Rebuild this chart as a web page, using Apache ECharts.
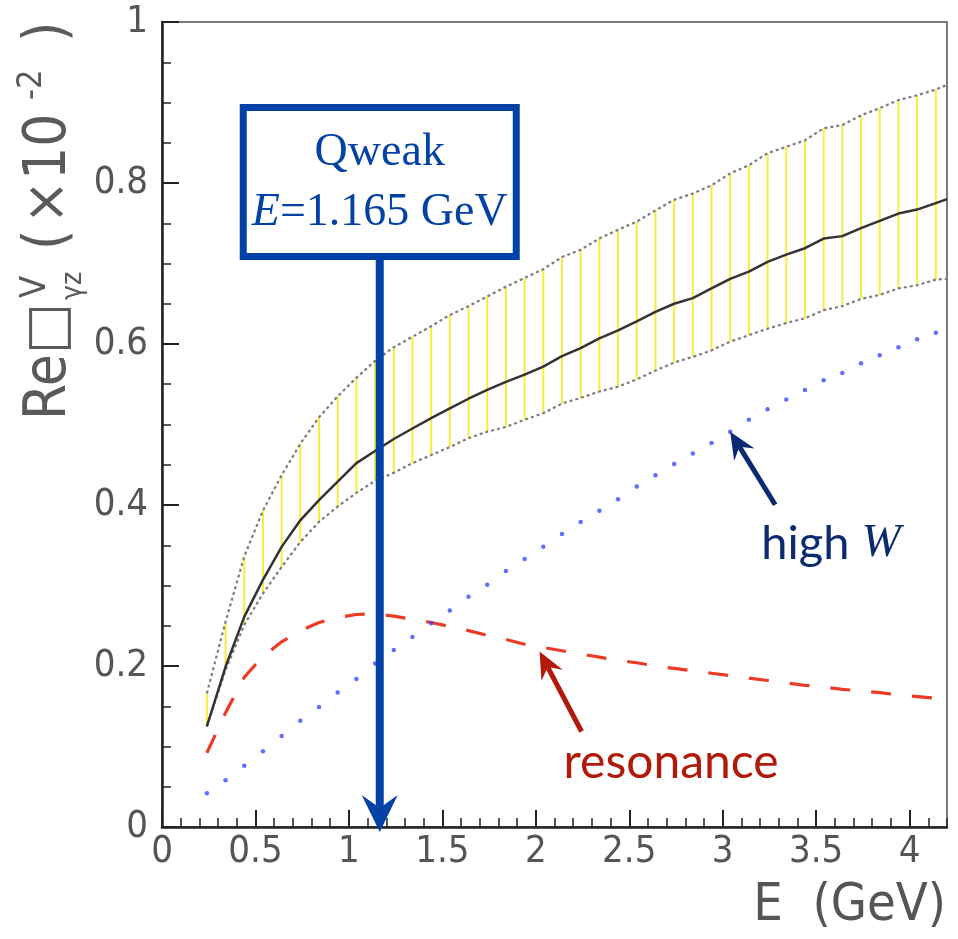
<!DOCTYPE html>
<html><head><meta charset="utf-8">
<script src="https://cdn.jsdelivr.net/npm/echarts@6/dist/echarts.min.js"></script>
<style>html,body{margin:0;padding:0;background:#fff}#c{width:958px;height:939px}</style>
</head><body><div id="c"></div>
<script>
// ---- data ----
const energy = [0.24,0.34,0.44,0.54,0.64,0.74,0.84,0.94,1.04,1.14,1.24,1.34,1.44,1.54,1.64,1.74,1.84,1.94,2.04,2.14,
  2.24,2.34,2.44,2.54,2.64,2.74,2.84,2.94,3.04,3.14,3.24,3.34,3.44,3.54,3.64,3.74,3.84,3.94,4.04,4.14,4.2];
const central = [0.125,0.199,0.261,0.307,0.348,0.381,0.406,0.429,0.452,0.467,0.482,0.495,0.508,0.520,0.532,0.543,0.553,0.562,0.572,0.585,
  0.595,0.607,0.617,0.628,0.640,0.650,0.657,0.669,0.681,0.690,0.702,0.711,0.719,0.731,0.734,0.744,0.753,0.762,0.767,0.775,0.780];
const upper = [0.166,0.255,0.336,0.393,0.437,0.476,0.509,0.535,0.558,0.579,0.596,0.609,0.622,0.636,0.647,0.659,0.671,0.682,0.693,0.708,
  0.717,0.731,0.742,0.752,0.766,0.779,0.787,0.797,0.812,0.822,0.837,0.845,0.853,0.868,0.872,0.884,0.893,0.903,0.909,0.916,0.922];
const lower = [0.125,0.195,0.251,0.290,0.323,0.354,0.379,0.398,0.415,0.430,0.440,0.452,0.462,0.472,0.483,0.491,0.497,0.506,0.514,0.526,
  0.533,0.541,0.547,0.556,0.567,0.577,0.584,0.592,0.603,0.611,0.619,0.626,0.632,0.642,0.647,0.656,0.661,0.669,0.673,0.680,0.681];
const resonance = [0.092,0.142,0.186,0.212,0.230,0.244,0.254,0.260,0.264,0.265,0.262,0.258,0.254,0.249,0.244,0.238,0.233,0.227,0.223,0.219,
  0.215,0.211,0.207,0.204,0.200,0.197,0.194,0.191,0.188,0.185,0.182,0.179,0.176,0.174,0.171,0.169,0.167,0.164,0.162,0.160,0.158];
const highW = [0.042,0.058,0.076,0.094,0.113,0.132,0.149,0.167,0.184,0.203,0.220,0.236,0.253,0.269,0.286,0.301,0.318,0.333,0.348,0.364,
  0.379,0.393,0.407,0.423,0.437,0.451,0.464,0.477,0.491,0.506,0.519,0.531,0.543,0.555,0.564,0.576,0.586,0.596,0.606,0.614];
const bandCount = 40; // vertical band bars drawn at the first 40 energies
const xMajorTicks = [0,0.5,1,1.5,2,2.5,3,3.5,4];
const yMajorTicks = [0,0.2,0.4,0.6,0.8,1];
const xTitle = 'E  (GeV)';
const qweakEnergy = 1.165;
const qweakLabel = ['Qweak', 'E', '=1.165 GeV'];
const highWPoint = [3.04, 0.491];
const resonancePoint = [2.02, 0.218];

const NARROW = '"Liberation Sans Narrow","DejaVu Sans Condensed","Liberation Sans",sans-serif';
const chart = echarts.init(document.getElementById('c'), null, {renderer:'canvas'});

const pairs = arr => arr.map((v,i) => [energy[i], v]);

chart.setOption({
  animation:false,
  backgroundColor:'#fff',
  grid:{left:162, right:11, top:22, bottom:112, show:true, borderColor:'#7a7a7a', borderWidth:2,
    backgroundColor:'transparent', containLabel:false, outerBoundsMode:'none'},
  xAxis:[{
    type:'value', min:0, max:4.2, interval:0.5, position:'bottom',
    axisLine:{show:true, onZero:false, lineStyle:{color:'#222', width:2.5}},
    axisTick:{show:true, inside:true, length:17, customValues:xMajorTicks, lineStyle:{color:'#222', width:2}},
    axisLabel:{customValues:xMajorTicks, fontFamily:NARROW, fontSize:38, color:'#555', margin:6},
    splitLine:{show:false}
  },{
    type:'value', min:0, max:4.2, interval:0.1, position:'bottom',
    axisLine:{show:false, onZero:false},
    axisTick:{show:true, inside:true, length:9, lineStyle:{color:'#222', width:1.5}},
    axisLabel:{show:false}, splitLine:{show:false}
  }],
  yAxis:{
    type:'value', min:0, max:1, interval:0.2,
    axisLine:{show:true, onZero:false, lineStyle:{color:'#222', width:2.5}},
    axisTick:{show:true, inside:true, length:17, customValues:yMajorTicks, lineStyle:{color:'#222', width:2}},
    minorTick:{show:true, splitNumber:4, length:9, lineStyle:{color:'#222', width:1.5}},
    axisLabel:{customValues:yMajorTicks, fontFamily:NARROW, fontSize:38, color:'#555', margin:14},
    splitLine:{show:false}, minorSplitLine:{show:false}
  },
  series:[
    {
      type:'custom', name:'band', z:1,
      data: energy.slice(0,bandCount).map((x,i)=>[x, lower[i], upper[i]]),
      encode:{x:0, y:[1,2]},
      renderItem:(params, api)=>{
        const a = api.coord([api.value(0), api.value(1)]);
        const b = api.coord([api.value(0), api.value(2)]);
        return {type:'line', shape:{x1:a[0], y1:a[1], x2:b[0], y2:b[1]}, style:{stroke:'#f6ee3c', lineWidth:2}};
      }
    },
    {type:'line', name:'upper', data:pairs(upper), symbol:'none', z:2,
      lineStyle:{color:'#7d7d7d', width:2.2, type:[3,3]}},
    {type:'line', name:'lower', data:pairs(lower), symbol:'none', z:2,
      lineStyle:{color:'#7d7d7d', width:2.2, type:[3,3]}},
    {type:'line', name:'central', data:pairs(central), symbol:'none', z:3,
      lineStyle:{color:'#333', width:2.5}},
    {type:'line', name:'resonance', data:pairs(resonance), symbol:'none', z:3,
      lineStyle:{color:'#ec3b25', width:3.2, type:[20,21]}},
    {type:'scatter', name:'high W', data:pairs(highW), symbol:'circle', symbolSize:4.5, z:3,
      itemStyle:{color:'#3a48ff'}}
  ]
});

function arrow(tip, tail, color, width, headLen, headHalf) {
  const dx = tip[0]-tail[0], dy = tip[1]-tail[1];
  const L = Math.hypot(dx, dy), ux = dx/L, uy = dy/L, nx = -uy, ny = ux;
  const bx = tip[0]-ux*headLen, by = tip[1]-uy*headLen;
  const mx = tip[0]-ux*headLen*0.65, my = tip[1]-uy*headLen*0.65;
  return [
    {type:'line', z:100, shape:{x1:tail[0], y1:tail[1], x2:mx, y2:my}, style:{stroke:color, lineWidth:width}},
    {type:'polygon', z:101, shape:{points:[[tip[0],tip[1]],[bx+nx*headHalf, by+ny*headHalf],[mx,my],[bx-nx*headHalf, by-ny*headHalf]]},
      style:{fill:color}}
  ];
}

const px = v => chart.convertToPixel({gridIndex:0}, v);
const q0 = px([qweakEnergy, 0]);
const blue = '#0241a6';
const qTip = [q0[0], q0[1]+5];
const g = [];
// Qweak box and arrow
g.push(...arrow(qTip, [q0[0], 258], blue, 8, 37, 18));
g.push({type:'rect', z:102, shape:{x:q0[0]-136.5, y:107.5, width:273, height:149},
  style:{fill:'#fff', stroke:blue, lineWidth:7}});
g.push({type:'text', z:103, x:q0[0], y:153, style:{text:qweakLabel[0], font:'46px "Liberation Serif"', fill:blue,
  textAlign:'center', textVerticalAlign:'middle', align:'center', verticalAlign:'middle'}});
g.push({type:'text', z:103, x:q0[0], y:213, style:{
  text:'{i|'+qweakLabel[1]+'}{r|'+qweakLabel[2]+'}', textAlign:'center', textVerticalAlign:'middle', align:'center', verticalAlign:'middle',
  rich:{i:{font:'italic 46px "Liberation Serif"', fill:blue, color:blue}, r:{font:'46px "Liberation Serif"', fill:blue, color:blue}}}});
// high W annotation
const hw = px(highWPoint);
const navy = '#0b2b70';
g.push(...arrow(hw, [hw[0]+45, hw[1]+73], navy, 5, 27, 12));
g.push({type:'text', z:103, x:hw[0]+31, y:hw[1]+112, style:{
  text:'{a|high }{b|W}', textAlign:'left', textVerticalAlign:'middle', align:'left', verticalAlign:'middle',
  rich:{a:{font:'47px Lato', fill:navy, color:navy}, b:{font:'italic 47px "Liberation Serif"', fill:navy, color:navy}}}});
// resonance annotation
const rs = px(resonancePoint);
const dred = '#b1190b';
g.push(...arrow(rs, [rs[0]+42, rs[1]+80], dred, 5, 27, 12));
g.push({type:'text', z:103, x:rs[0]+24, y:rs[1]+111, style:{text:'resonance', font:'48px Lato', fill:dred,
  textAlign:'left', textVerticalAlign:'middle', align:'left', verticalAlign:'middle'}});
// x-axis title
g.push({type:'text', z:50, x:946, y:906, style:{text:xTitle, font:'52px '+NARROW, fill:'#555',
  textAlign:'right', textVerticalAlign:'middle', align:'right', verticalAlign:'middle'}});
// y-axis title (rotated)
const gray = '#5a5a5a';
const t = (txt, x, y, size) => ({type:'text', x:x, y:y, style:{text:txt, font:size+'px '+NARROW, fill:gray,
  textAlign:'left', textVerticalAlign:'middle', align:'left', verticalAlign:'middle'}});
g.push({type:'group', x:50, y:420, rotation:Math.PI/2, z:50, children:[
  t('Re', 0, 0, 58),
  {type:'text', x:66, y:0, style:{text:'\u25A1', font:'54px "DejaVu Sans"', fill:gray, textAlign:'left', textVerticalAlign:'middle', align:'left', verticalAlign:'middle'}},
  t('V', 122, -14, 36),
  t('\u03B3z', 120, 24, 28),
  t('(', 170, 0, 58),
  t('\u00D7', 196, 0, 58),
  t('10', 240, 0, 58),
  t('-2', 320, -18, 34),
  t(')', 378, 0, 58)
]});
chart.setOption({graphic:g});
</script></body></html>
